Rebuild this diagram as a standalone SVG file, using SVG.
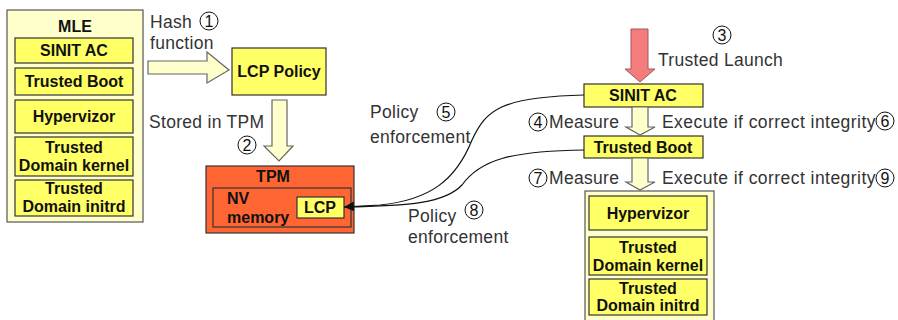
<svg xmlns="http://www.w3.org/2000/svg" width="898" height="320" viewBox="0 0 898 320">
<defs>
<style>
.lbl{font-family:"Liberation Sans",Arial,sans-serif;font-size:17.5px;fill:#333;letter-spacing:0.3px}
.wide{letter-spacing:0.45px}
.bold{font-family:"Liberation Sans",Arial,sans-serif;font-size:16px;font-weight:bold;fill:#111;text-anchor:middle}
.num{font-family:"Liberation Sans",Arial,sans-serif;font-size:16px;fill:#111;text-anchor:middle}
.outer{fill:#ffffcc;stroke:#555;stroke-width:1.2}
.inner{fill:#ffff66;stroke:#333;stroke-width:1.2}
.tpm{fill:#ff6633;stroke:#333;stroke-width:1.2}
.harrow{fill:#ffffcc;stroke:#666;stroke-width:1.2}
.circ{fill:#fff;stroke:#111;stroke-width:1}
.curve{fill:none;stroke:#111;stroke-width:1.2}
</style>
<marker id="ah" viewBox="0 0 10 10" refX="10" refY="5" markerWidth="10" markerHeight="10" markerUnits="userSpaceOnUse" orient="auto">
<path d="M0,0 L10,5 L0,10 Z" fill="#111"/>
</marker>
</defs>
<rect width="898" height="320" fill="#fff"/>

<g id="mle">
<rect class="outer" x="7" y="10" width="136" height="212"/>
<text class="bold" x="75" y="32">MLE</text>
<rect class="inner" x="15" y="38" width="118" height="25"/>
<text class="bold" x="74" y="56">SINIT AC</text>
<rect class="inner" x="15" y="68" width="118" height="27"/>
<text class="bold" x="74" y="87">Trusted Boot</text>
<rect class="inner" x="15" y="100" width="118" height="33"/>
<text class="bold" x="74" y="122">Hypervizor</text>
<rect class="inner" x="15" y="137" width="118" height="39"/>
<text class="bold" x="74" y="153">Trusted</text>
<text class="bold" x="74" y="171">Domain kernel</text>
<rect class="inner" x="15" y="180" width="118" height="36"/>
<text class="bold" x="74" y="194">Trusted</text>
<text class="bold" x="74" y="212">Domain initrd</text>
</g>

<g id="lcp-policy">
<rect class="inner" x="232" y="48" width="94" height="47"/>
<text class="bold" x="279" y="77">LCP Policy</text>
</g>

<g id="tpm">
<rect class="tpm" x="206" y="166" width="148" height="67"/>
<text class="bold" x="273" y="182">TPM</text>
<rect class="tpm" x="213" y="188" width="138" height="39"/>
<text class="bold" x="227" y="204" style="text-anchor:start">NV</text>
<text class="bold" x="227" y="223" style="text-anchor:start">memory</text>
<rect class="inner" x="297" y="197" width="47" height="21"/>
<text class="bold" x="320" y="213">LCP</text>
</g>

<g id="sinit-ac">
<rect class="inner" x="584" y="84" width="119" height="23"/>
<text class="bold" x="643" y="101">SINIT AC</text>
</g>

<g id="trusted-boot">
<rect class="inner" x="584" y="136" width="119" height="22"/>
<text class="bold" x="643" y="153">Trusted Boot</text>
</g>

<g id="domain-stack">
<rect class="outer" x="585" y="191" width="129" height="135"/>
<rect class="inner" x="589" y="196" width="118" height="34"/>
<text class="bold" x="648" y="219">Hypervizor</text>
<rect class="inner" x="589" y="237" width="118" height="38"/>
<text class="bold" x="648" y="253">Trusted</text>
<text class="bold" x="648" y="271">Domain kernel</text>
<rect class="inner" x="589" y="279" width="118" height="36"/>
<text class="bold" x="648" y="294">Trusted</text>
<text class="bold" x="648" y="311">Domain initrd</text>
</g>

<g id="connectors">
<path class="harrow" d="M148,61 L207,61 L207,52 L229,70 L207,83 L207,74 L148,74 Z"/>
<path class="harrow" d="M272,100 L287,100 L287,146 L293,146 L279,161 L264,146 L272,146 Z"/>
<path d="M631,29 L648,29 L648,69 L655,69 L640,82 L625,69 L631,69 Z" fill="#f47c7c" stroke="#a05a5a" stroke-width="1"/>
<path class="harrow" d="M632,107 L648,107 L648,127 L655,127 L640,135 L626,127 L632,127 Z"/>
<path class="harrow" d="M632,158 L648,158 L648,182 L655,182 L640,190 L626,182 L632,182 Z"/>
<path class="curve" d="M584,95 C500,97 486,110 472,140 C456,180 430,200 380,205 L344,207" marker-end="url(#ah)"/>
<path class="curve" d="M584,150 C510,151 480,160 462,185 C445,203 410,206 344,207"/>
</g>

<g id="labels">
<text class="lbl" x="150" y="28">Hash</text>
<text class="lbl" x="150" y="49">function</text>
<circle class="circ" cx="209" cy="21" r="9"/><text class="num" x="209" y="27">1</text>
<text class="lbl" x="149" y="128">Stored in TPM</text>
<circle class="circ" cx="247" cy="145" r="9"/><text class="num" x="247" y="151">2</text>
<circle class="circ" cx="722" cy="35" r="9"/><text class="num" x="722" y="41">3</text>
<text class="lbl" x="658" y="66">Trusted Launch</text>
<text class="lbl" x="370" y="118">Policy</text>
<text class="lbl" x="370" y="143">enforcement</text>
<circle class="circ" cx="446" cy="112" r="9"/><text class="num" x="446" y="118">5</text>
<circle class="circ" cx="538" cy="122" r="9"/><text class="num" x="538" y="128">4</text>
<text class="lbl" x="549" y="128">Measure</text>
<text class="lbl wide" x="662" y="128">Execute if correct integrity</text>
<circle class="circ" cx="885" cy="121" r="9"/><text class="num" x="885" y="127">6</text>
<circle class="circ" cx="538" cy="178" r="9"/><text class="num" x="538" y="184">7</text>
<text class="lbl" x="549" y="184">Measure</text>
<text class="lbl wide" x="662" y="184">Execute if correct integrity</text>
<circle class="circ" cx="885" cy="178" r="9"/><text class="num" x="885" y="184">9</text>
<text class="lbl" x="408" y="222">Policy</text>
<text class="lbl" x="408" y="243">enforcement</text>
<circle class="circ" cx="474" cy="210" r="9"/><text class="num" x="474" y="216">8</text>
</g>
</svg>
